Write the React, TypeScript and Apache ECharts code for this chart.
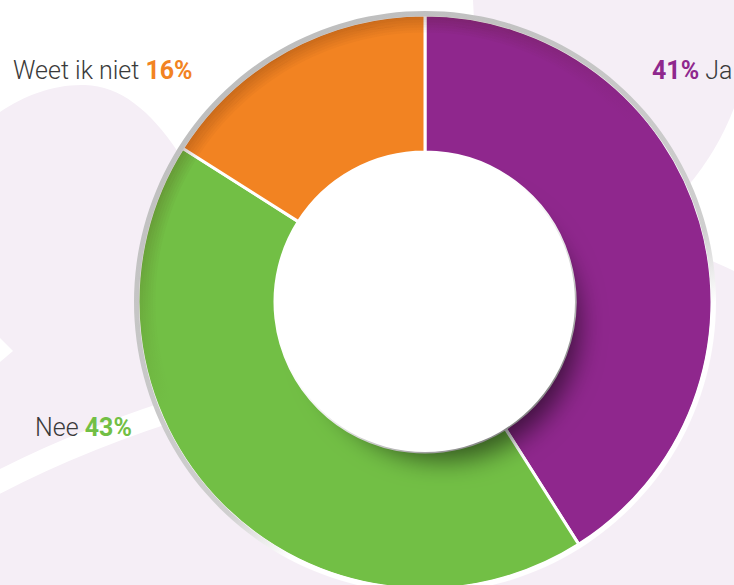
import React, { useEffect, useRef } from 'react';
import * as echarts from 'echarts';

const categories = ['Ja', 'Nee', 'Weet ik niet'];
const values = [41, 43, 16];
const colors = ['#8f278d', '#72bf45', '#f28322'];

const BG_A = 'M0,112 C25,95 55,84 85,85 C120,86 150,110 178,152 L330,330 L470,330 L700,256 C712,261 724,266 734,271 L734,585 L0,585 Z';
const BG_B = 'M473,0 L734,0 L734,108 Q718,150 688,186 L560,160 L474,20 Z';
const STRIPE = 'M-20,492 Q75,440 200,402';

let registered = false;
function registerShapes() {
  if (registered) return;
  registered = true;
  echarts.graphic.registerShape('bgA', echarts.graphic.extendPath(BG_A, {}));
  echarts.graphic.registerShape('bgB', echarts.graphic.extendPath(BG_B, {}));
  echarts.graphic.registerShape('stripe', echarts.graphic.extendPath(STRIPE, {}));
}

export default function App() {
  const ref = useRef<HTMLDivElement>(null);
  useEffect(() => {
    if (!ref.current) return;
    registerShapes();
    const chart = echarts.init(ref.current, undefined, { renderer: 'svg' });
    const cx = 425, cy = 302, rIn = 150, rOut = 287;
    const lavender = '#f5eef6';
    const font = 'Roboto, "Open Sans", sans-serif';
    const lbl = (i: number, numFirst: boolean) =>
      numFirst ? `{n${i}|${values[i]}%}{t| ${categories[i]}}` : `{t|${categories[i]} }{n${i}|${values[i]}%}`;
    const rich: any = {
      t: { fontFamily: font, fontWeight: 300, fontSize: 25, fill: '#3a3a3a' },
    };
    colors.forEach((c, i) => {
      rich['n' + i] = { fontFamily: font, fontWeight: 700, fontSize: 25, fill: c };
    });
    const shadeRings: any[] = [];
    const N = 7;
    for (let k = 0; k < N; k++) {
      const a = 0.26 * (1 - k / N);
      shadeRings.push({
        type: 'ring', z: 5, silent: true,
        shape: { cx, cy, r: rOut - 2.5 * k, r0: rOut - 2.5 * (k + 1) },
        style: {
          fill: new echarts.graphic.LinearGradient(0.1, 0, 0.7, 1, [
            { offset: 0, color: `rgba(60,20,0,${a})` },
            { offset: 0.22, color: `rgba(60,20,0,${a * 0.8})` },
            { offset: 0.48, color: 'rgba(60,20,0,0)' },
            { offset: 1, color: 'rgba(60,20,0,0)' },
          ]),
        },
      });
    }
    chart.setOption({
      animation: false,
      backgroundColor: '#ffffff',
      graphic: [
        { type: 'bgA', z: 0, style: { fill: lavender } },
        { type: 'bgB', z: 0, style: { fill: lavender } },
        { type: 'stripe', z: 0, style: { fill: 'none', stroke: '#ffffff', lineWidth: 22 } },
        { type: 'polygon', z: 0, shape: { points: [[0, 338], [13, 351], [0, 362]] }, style: { fill: '#ffffff' } },
        ...shadeRings,
        {
          type: 'ring', z: 10,
          shape: { cx, cy, r: rOut + 4, r0: rOut - 1 },
          style: {
            fill: new echarts.graphic.LinearGradient(0.2, 0, 0.8, 1, [
              { offset: 0, color: '#bcbcbc' },
              { offset: 0.62, color: '#cfcfcf' },
              { offset: 0.72, color: '#ffffff' },
              { offset: 1, color: '#ffffff' },
            ]),
          },
        },
        {
          type: 'circle', z: 9, silent: true,
          shape: { cx, cy, r: 135 },
          style: {
            fill: '#ffffff',
            shadowBlur: 26,
            shadowColor: 'rgba(0,0,0,0.55)',
            shadowOffsetX: 19,
            shadowOffsetY: 23,
          },
        },
        {
          type: 'circle', z: 10,
          shape: { cx, cy, r: rIn },
          style: { fill: '#ffffff' },
        },
        { type: 'text', z: 20, x: 13, y: 70, style: { text: lbl(2, false), rich, verticalAlign: 'middle', align: 'left' } },
        { type: 'text', z: 20, x: 652, y: 70, style: { text: lbl(0, true), rich, verticalAlign: 'middle', align: 'left' } },
        { type: 'text', z: 20, x: 35, y: 427, style: { text: lbl(1, false), rich, verticalAlign: 'middle', align: 'left' } },
      ],
      series: [
        {
          type: 'pie',
          z: 2,
          center: [cx, cy],
          radius: [rIn, rOut],
          startAngle: 90,
          clockwise: true,
          label: { show: false },
          labelLine: { show: false },
          emphasis: { disabled: true },
          itemStyle: { borderColor: '#ffffff', borderWidth: 3 },
          data: categories.map((name, i) => ({
            name,
            value: values[i],
            itemStyle: { color: colors[i] },
          })),
        },
      ],
    });
    return () => chart.dispose();
  }, []);
  return (
    <div
      ref={ref}
      style={{ position: 'fixed', left: 0, top: 0, width: 734, height: 585 }}
    />
  );
}
